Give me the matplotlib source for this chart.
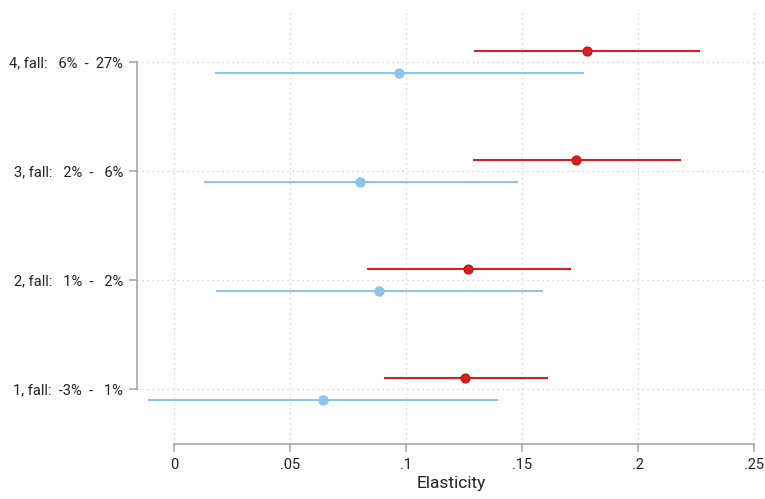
import matplotlib
matplotlib.use("Agg")
import matplotlib.pyplot as plt
from matplotlib.ticker import FixedLocator

plt.rcParams['font.family'] = ['Roboto', 'DejaVu Sans']

# Data
groups = [1, 2, 3, 4]
group_labels = ["1, fall:  -3%  -   1%",
                "2, fall:   1%  -   2%",
                "3, fall:   2%  -   6%",
                "4, fall:   6%  -  27%"]
red_est = [0.1254, 0.1267, 0.1733, 0.1780]
red_lo = [0.0905, 0.0832, 0.1289, 0.1293]
red_hi = [0.1612, 0.1711, 0.2185, 0.2267]
blue_est = [0.0642, 0.0884, 0.0802, 0.0970]
blue_lo = [-0.0112, 0.0181, 0.0129, 0.0177]
blue_hi = [0.1397, 0.1590, 0.1483, 0.1767]
xticks = [0, 0.05, 0.1, 0.15, 0.2, 0.25]
xtick_labels = ["0", ".05", ".1", ".15", ".2", ".25"]

red = "#d81e1e"
blue = "#8cc4ec"
offset = 0.1

fig = plt.figure(figsize=(7.65, 4.99), dpi=100)
W, H = 765, 499
ax = fig.add_axes([137 / W, 1 - 444 / H, (765 - 137) / W, (444 - 9) / H])

for g, e, lo, hi in zip(groups, blue_est, blue_lo, blue_hi):
    y = g - offset
    ax.plot([lo, hi], [y, y], color=blue, lw=1.5, solid_capstyle='butt', zorder=3)
    ax.plot([e], [y], 'o', color=blue, ms=6.5, mec=blue, zorder=4)
for g, e, lo, hi in zip(groups, red_est, red_lo, red_hi):
    y = g + offset
    ax.plot([lo, hi], [y, y], color=red, lw=1.5, solid_capstyle='butt', zorder=3)
    ax.plot([e], [y], 'o', color=red, ms=6.5, mec="#c01010", mew=0.8, zorder=4)

ax.set_xlim(-0.01595, 0.2547)
ax.set_ylim(0.4954, 4.486)

ax.xaxis.set_major_locator(FixedLocator(xticks))
ax.set_xticklabels(xtick_labels)
ax.yaxis.set_major_locator(FixedLocator(groups))
ax.set_yticklabels(group_labels)

ax.grid(True, color="#cccccc", linestyle=(0, (1, 3)), lw=0.9)
ax.set_axisbelow(True)

for s in ['top', 'right']:
    ax.spines[s].set_visible(False)
for s in ['left', 'bottom']:
    ax.spines[s].set_color("#a0a0a0")
    ax.spines[s].set_linewidth(1.1)
ax.spines['left'].set_bounds(1, 4)
ax.spines['bottom'].set_bounds(0, 0.25)

ax.tick_params(axis='both', colors="#a0a0a0", length=6, width=1.1, labelcolor="#222222", labelsize=10.5)
ax.tick_params(axis='x', pad=4)
ax.tick_params(axis='y', pad=4)

ax.set_xlabel("Elasticity", fontsize=12.5, color="#222222", labelpad=3)

fig.savefig("out.png", dpi=100)
